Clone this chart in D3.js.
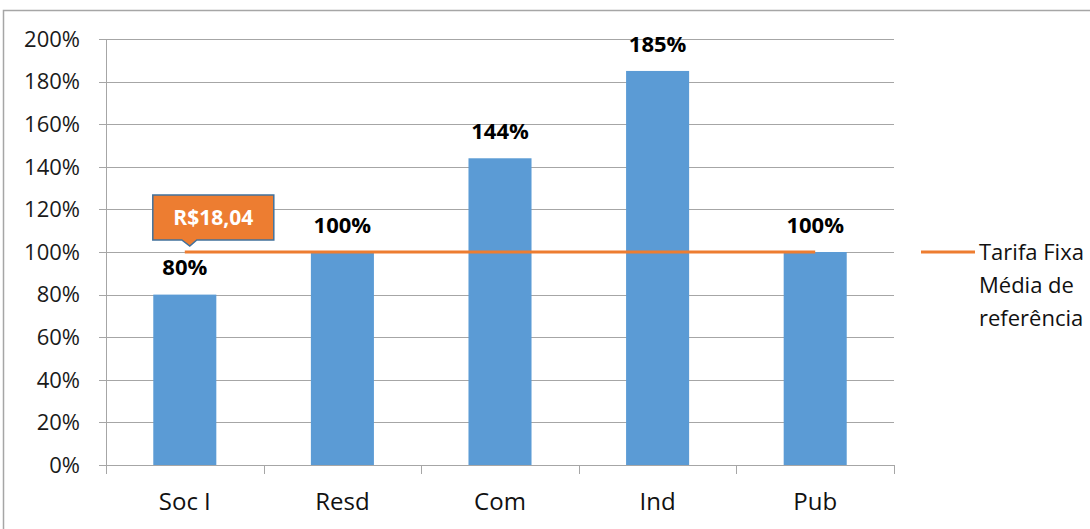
<!DOCTYPE html>
<html>
<head>
<meta charset="utf-8">
<script src="https://cdn.jsdelivr.net/npm/d3@7"></script>
<style>
  body { margin: 0; background: #fff; }
  svg text { font-family: "Open Sans", "Noto Sans", sans-serif; }
</style>
</head>
<body>
<div id="chart"></div>
<script>
// data
var categories = ["Soc I", "Resd", "Com", "Ind", "Pub"]
var values = [0.80, 1.00, 1.44, 1.85, 1.00]
var refLine = [1.00, 1.00, 1.00, 1.00, 1.00]
var yTicks = [0, 0.2, 0.4, 0.6, 0.8, 1.0, 1.2, 1.4, 1.6, 1.8, 2.0]
var calloutText = "R$18,04"
var legendLines = ["Tarifa Fixa", "Média de", "referência"]

var width = 1090, height = 529
var margin = {top: 39, right: 196, bottom: 64, left: 106}

const svg = d3.select("#chart").append("svg")
    .attr("width", width)
    .attr("height", height)

// chart area frame (only left and top visible)
svg.append("rect")
    .attr("x", 3.5).attr("y", 10.5)
    .attr("width", width + 20).attr("height", height + 20)
    .attr("fill", "none")
    .attr("stroke", "#a6a6a6")
    .attr("stroke-width", 1.5)

var x = d3.scaleBand()
    .domain(categories)
    .range([margin.left, width - margin.right])
    .paddingInner(0.6)
    .paddingOuter(0.3)

var xOuter = d3.scaleBand()
    .domain(categories)
    .range([margin.left, width - margin.right])

var y = d3.scaleLinear()
    .domain([0, 2])
    .range([height - margin.bottom, margin.top])

// gridlines
svg.append("g")
  .selectAll("line")
  .data(yTicks)
  .join("line")
    .attr("x1", margin.left - 7)
    .attr("x2", width - margin.right)
    .attr("y1", d => Math.round(y(d)) + 0.5)
    .attr("y2", d => Math.round(y(d)) + 0.5)
    .attr("stroke", "#a6a6a6")
    .attr("stroke-width", 1)

// y axis line
svg.append("line")
    .attr("x1", margin.left + 0.5).attr("x2", margin.left + 0.5)
    .attr("y1", y(2)).attr("y2", y(0))
    .attr("stroke", "#a6a6a6")

// y tick labels
svg.append("g")
    .attr("text-anchor", "end")
    .attr("font-size", 22)
    .attr("fill", "#1a1a1a")
  .selectAll("text")
  .data(yTicks)
  .join("text")
    .attr("x", margin.left - 26)
    .attr("y", d => y(d))
    .attr("dy", "0.35em")
    .text(d => Math.round(d * 100) + "%")

// x axis ticks
var xEdges = categories.map(c => xOuter(c)).concat([width - margin.right])
svg.append("g")
  .selectAll("line")
  .data(xEdges)
  .join("line")
    .attr("x1", d => Math.round(d) + 0.5)
    .attr("x2", d => Math.round(d) + 0.5)
    .attr("y1", y(0))
    .attr("y2", y(0) + 9)
    .attr("stroke", "#a6a6a6")

// bars
svg.append("g")
  .selectAll("rect")
  .data(values)
  .join("rect")
    .attr("x", (d, i) => x(categories[i]))
    .attr("width", x.bandwidth())
    .attr("y", d => y(d))
    .attr("height", d => y(0) - y(d))
    .attr("fill", "#5b9bd5")

// category labels
svg.append("g")
    .attr("text-anchor", "middle")
    .attr("font-size", 24)
    .attr("fill", "#111")
  .selectAll("text")
  .data(categories)
  .join("text")
    .attr("x", d => xOuter(d) + xOuter.bandwidth() / 2)
    .attr("y", 502)
    .attr("dy", "0.35em")
    .text(d => d)

// reference line
var line = d3.line()
    .x((d, i) => xOuter(categories[i]) + xOuter.bandwidth() / 2)
    .y(d => y(d))
svg.append("path")
    .datum(refLine)
    .attr("d", line)
    .attr("fill", "none")
    .attr("stroke", "#ed7d31")
    .attr("stroke-width", 3)

// value labels
svg.append("g")
    .attr("text-anchor", "middle")
    .attr("font-size", 22)
    .attr("font-weight", "bold")
    .attr("fill", "#000")
  .selectAll("text")
  .data(values)
  .join("text")
    .attr("x", (d, i) => xOuter(categories[i]) + xOuter.bandwidth() / 2)
    .attr("y", d => y(d) - 27)
    .attr("dy", "0.35em")
    .text(d => Math.round(d * 100) + "%")

// callout for the reference value
var cx = xOuter(categories[0]) + xOuter.bandwidth() / 2
var cy = y(refLine[0])
var bx0 = cx - 32, bx1 = cx + 89, by0 = cy - 57, by1 = cy - 12
var callout = svg.append("g")
callout.append("path")
    .attr("d", `M${bx0},${by0} L${bx1},${by0} L${bx1},${by1} L${cx + 12},${by1} L${cx + 5},${cy - 6} L${cx - 3},${by1} L${bx0},${by1} Z`)
    .attr("fill", "#ed7d31")
    .attr("stroke", "#41719c")
    .attr("stroke-width", 1.5)
callout.append("text")
    .attr("x", (bx0 + bx1) / 2)
    .attr("y", (by0 + by1) / 2)
    .attr("dy", "0.35em")
    .attr("text-anchor", "middle")
    .attr("font-size", 21)
    .attr("font-weight", "bold")
    .attr("fill", "#fff")
    .text(calloutText)

// legend
var lg = svg.append("g")
lg.append("line")
    .attr("x1", 921).attr("x2", 975)
    .attr("y1", y(1)).attr("y2", y(1))
    .attr("stroke", "#ed7d31")
    .attr("stroke-width", 3)
lg.selectAll("text")
  .data(legendLines)
  .join("text")
    .attr("x", 979)
    .attr("y", (d, i) => y(1) + i * 33)
    .attr("dy", "0.35em")
    .attr("font-size", 22)
    .attr("fill", "#111")
    .text(d => d)
</script>
</body>
</html>
